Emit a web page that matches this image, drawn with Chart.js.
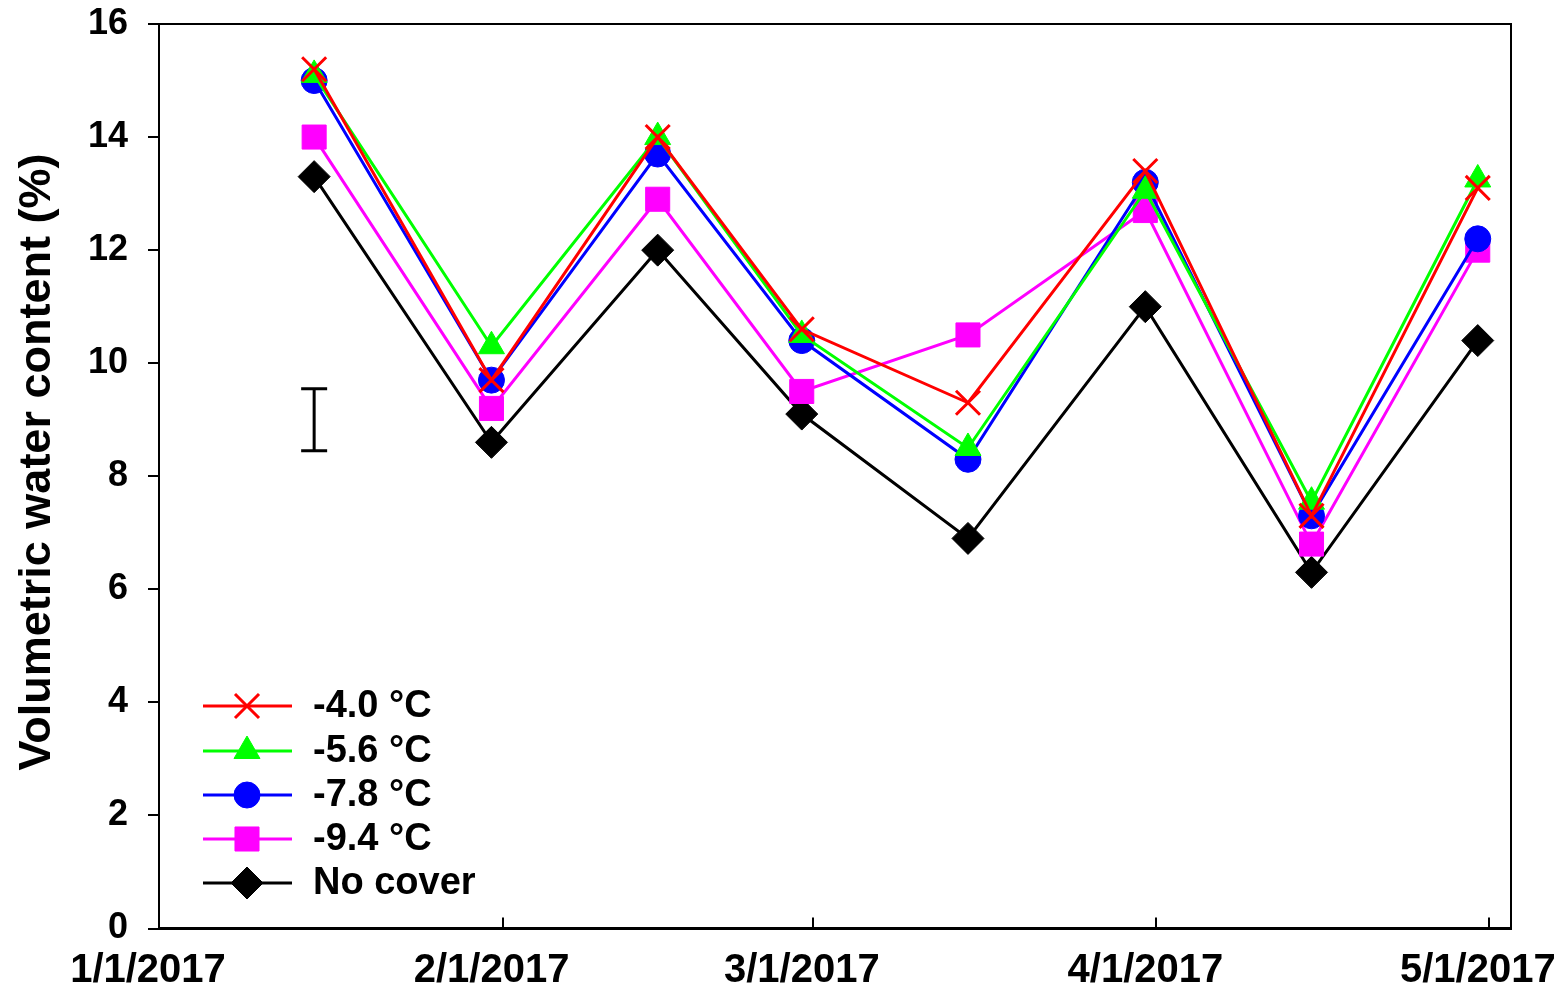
<!DOCTYPE html>
<html>
<head>
<meta charset="utf-8">
<script src="https://cdn.jsdelivr.net/npm/chart.js@4.4.1/dist/chart.umd.min.js"></script>
<style>
  html, body { margin: 0; padding: 0; background: #ffffff; }
  #wrap { width: 1557px; height: 991px; }
</style>
</head>
<body>
<div id="wrap"><canvas id="chart" width="1557" height="991"></canvas></div>
<script>
// Soil volumetric water content under different cover treatments
const seriesNames = ['-4.0 \u00B0C', '-5.6 \u00B0C', '-7.8 \u00B0C', '-9.4 \u00B0C', 'No cover'];
const sampleDates = ['2017-01-15', '2017-01-31', '2017-02-15', '2017-02-28',
                     '2017-03-15', '2017-03-31', '2017-04-15', '2017-04-30'];
const vwcMinus40 = [15.2, 9.7, 14.0, 10.6, 9.3, 13.4, 7.3, 13.1];
const vwcMinus56 = [15.1, 10.3, 14.0, 10.5, 8.5, 13.05, 7.55, 13.25];
const vwcMinus78 = [15.0, 9.7, 13.7, 10.4, 8.3, 13.2, 7.3, 12.2];
const vwcMinus94 = [14.0, 9.2, 12.9, 9.5, 10.5, 12.7, 6.8, 12.0];
const vwcNoCover = [13.3, 8.6, 12.0, 9.1, 6.9, 11.0, 6.3, 10.4];

const axisStartDate = '2017-01-01';
const axisEndDate = '2017-05-03';
const tickDates = ['2017-01-01', '2017-02-01', '2017-03-01', '2017-04-01', '2017-05-01'];
const tickLabels = ['1/1/2017', '2/1/2017', '3/1/2017', '4/1/2017', '5/1/2017'];
const yTickValues = [0, 2, 4, 6, 8, 10, 12, 14, 16];
const yTitle = 'Volumetric water content (%)';

// LSD bar shown at the first sampling date
const lsdDate = '2017-01-15';
const lsdLow = 8.45;
const lsdHigh = 9.55;

const FONT = "'Liberation Sans', Arial, Helvetica, sans-serif";
const DAY = 86400000;
function dayOf(s) { return (Date.parse(s) - Date.parse(axisStartDate)) / DAY; }
function toPoints(values) { return values.map((v, i) => ({ x: dayOf(sampleDates[i]), y: v })); }

const styles = [
  { color: '#ff0000', pointStyle: 'crossRot', radius: 17, borderWidth: 3 },
  { color: '#00ff00', pointStyle: 'triangle', radius: 15, borderWidth: 1 },
  { color: '#0000ff', pointStyle: 'circle', radius: 13, borderWidth: 1 },
  { color: '#ff00ff', pointStyle: 'rect', radius: 17, borderWidth: 1 },
  { color: '#000000', pointStyle: 'rectRot', radius: 16, borderWidth: 1 }
];
const seriesValues = [vwcMinus40, vwcMinus56, vwcMinus78, vwcMinus94, vwcNoCover];

const datasets = seriesValues.map((vals, i) => ({
  label: seriesNames[i],
  data: toPoints(vals),
  borderColor: styles[i].color,
  backgroundColor: styles[i].color,
  borderWidth: 3,
  pointStyle: styles[i].pointStyle,
  pointRadius: styles[i].radius,
  pointBorderWidth: styles[i].borderWidth,
  pointBorderColor: styles[i].color,
  pointBackgroundColor: styles[i].color,
  tension: 0,
  fill: false
}));

// Frame (top and right edges), inward x ticks, LSD bar, y title and the legend
const decorations = {
  id: 'decorations',
  beforeDatasetsDraw(chart) {
    const { ctx, chartArea: a, scales } = chart;
    ctx.save();
    ctx.strokeStyle = '#000';
    ctx.lineWidth = 2;
    ctx.beginPath();
    ctx.moveTo(a.left, a.top);
    ctx.lineTo(a.right, a.top);
    ctx.lineTo(a.right, a.bottom);
    ctx.stroke();
    // x ticks point into the plot
    tickDates.forEach(d => {
      const x = Math.round(scales.x.getPixelForValue(dayOf(d)));
      ctx.beginPath();
      ctx.moveTo(x, a.bottom);
      ctx.lineTo(x, a.bottom - 11);
      ctx.stroke();
    });
    // LSD bar
    const bx = scales.x.getPixelForValue(dayOf(lsdDate));
    const y1 = scales.y.getPixelForValue(lsdHigh);
    const y2 = scales.y.getPixelForValue(lsdLow);
    ctx.lineWidth = 3;
    ctx.beginPath();
    ctx.moveTo(bx, y1); ctx.lineTo(bx, y2);
    ctx.moveTo(bx - 13, y1); ctx.lineTo(bx + 13, y1);
    ctx.moveTo(bx - 13, y2); ctx.lineTo(bx + 13, y2);
    ctx.stroke();
    // y axis title
    ctx.translate(38, 462);
    ctx.rotate(-Math.PI / 2);
    ctx.fillStyle = '#000';
    ctx.font = 'bold 45px ' + FONT;
    ctx.textAlign = 'center';
    ctx.textBaseline = 'middle';
    ctx.fillText(yTitle, 0, 0);
    ctx.restore();
  },
  afterDraw(chart) {
    const { ctx } = chart;
    const rowY = [706, 751, 795, 839, 883];
    ctx.save();
    chart.data.datasets.forEach((ds, i) => {
      const y = rowY[i];
      ctx.strokeStyle = ds.borderColor;
      ctx.lineWidth = 3;
      ctx.beginPath();
      ctx.moveTo(203, y);
      ctx.lineTo(292, y);
      ctx.stroke();
      ctx.fillStyle = ds.pointBackgroundColor;
      ctx.strokeStyle = ds.pointBorderColor;
      ctx.lineWidth = ds.pointBorderWidth;
      Chart.helpers.drawPoint(ctx, {
        pointStyle: ds.pointStyle, radius: ds.pointRadius, rotation: 0, borderWidth: ds.pointBorderWidth
      }, 247, y);
      ctx.fillStyle = '#000';
      ctx.font = 'bold 38px ' + FONT;
      ctx.textAlign = 'left';
      ctx.textBaseline = 'middle';
      ctx.fillText(ds.label, 313, y + 1);
    });
    ctx.restore();
  }
};

new Chart(document.getElementById('chart'), {
  type: 'line',
  data: { datasets },
  options: {
    responsive: false,
    animation: false,
    events: [],
    layout: { padding: { top: 24, right: 46, left: 0, bottom: 0 } },
    plugins: { legend: { display: false }, tooltip: { enabled: false } },
    scales: {
      x: {
        type: 'linear',
        min: dayOf(axisStartDate),
        max: dayOf(axisEndDate),
        afterFit(scale) {
          scale.height = 62.5;
          scale.paddingLeft = 0;
          scale.paddingRight = 0;
        },
        afterBuildTicks(scale) { scale.ticks = tickDates.map(d => ({ value: dayOf(d) })); },
        grid: { display: false, drawTicks: false },
        border: { display: true, color: '#000', width: 3 },
        ticks: {
          autoSkip: false,
          maxRotation: 0,
          padding: 18,
          labelOffset: -11,
          color: '#000',
          font: { family: FONT, size: 40, weight: 'bold' },
          callback(value) {
            const idx = tickDates.findIndex(d => dayOf(d) === value);
            return idx >= 0 ? tickLabels[idx] : '';
          }
        }
      },
      y: {
        min: 0,
        max: 16,
        afterFit(scale) {
          scale.width = 159;
          scale.paddingTop = 0;
          scale.paddingBottom = 0;
        },
        afterBuildTicks(scale) { scale.ticks = yTickValues.map(v => ({ value: v })); },
        grid: { drawOnChartArea: false, drawTicks: true, tickLength: 11, color: '#000', lineWidth: 2 },
        border: { display: true, color: '#000', width: 2 },
        ticks: {
          padding: 20,
          color: '#000',
          font: { family: FONT, size: 36, weight: 'bold' }
        }
      }
    }
  },
  plugins: [decorations]
});
</script>
</body>
</html>
